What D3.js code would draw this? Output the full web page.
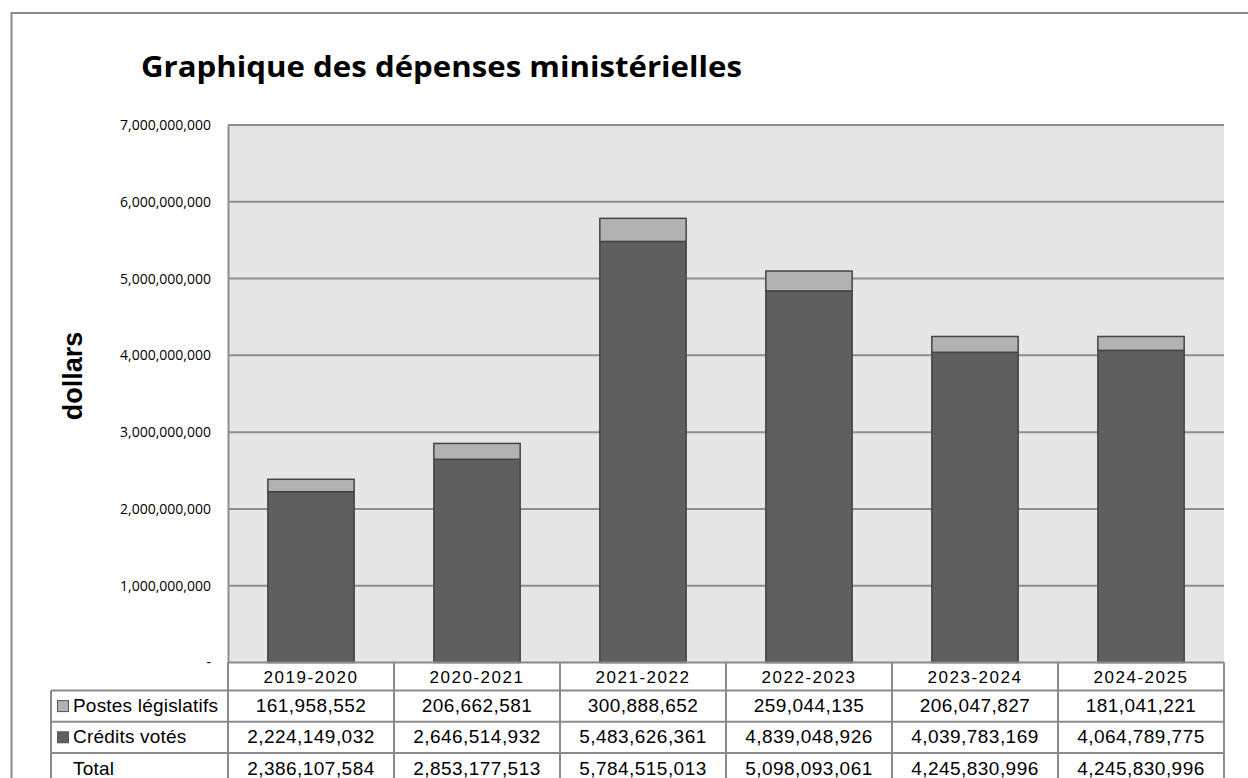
<!DOCTYPE html>
<html>
<head>
<meta charset="utf-8">
<script src="https://cdn.jsdelivr.net/npm/d3@7"></script>
<style>
  body { margin: 0; background: #fff; }
  svg { display: block; }
</style>
</head>
<body>
<div id="canvas"></div>
<script>
const years = ['2019-2020', '2020-2021', '2021-2022', '2022-2023', '2023-2024', '2024-2025']
const postes = [161958552, 206662581, 300888652, 259044135, 206047827, 181041221]
const credits = [2224149032, 2646514932, 5483626361, 4839048926, 4039783169, 4064789775]
const totals = [2386107584, 2853177513, 5784515013, 5098093061, 4245830996, 4245830996]
const yTicks = [0, 1e9, 2e9, 3e9, 4e9, 5e9, 6e9, 7e9]

const width = 1248
const height = 778
const plot = { left: 228, right: 1224, top: 125, bottom: 662.5 }

const colors = { credits: '#5f5f5f', postes: '#b2b2b2', grid: '#8e8e8e', bg: '#e6e6e6' }

const svg = d3.select('#canvas')
  .append('svg')
    .attr('width', width)
    .attr('height', height)

// outer frame
svg.append('rect')
  .attr('x', 11.5).attr('y', 13)
  .attr('width', 1300).attr('height', 900)
  .attr('fill', 'none')
  .attr('stroke', '#8a8a8a')
  .attr('stroke-width', 2)

svg.append('text')
  .attr('x', 141).attr('y', 77)
  .attr('font-family', 'Open Sans, sans-serif')
  .attr('font-weight', 700)
  .attr('font-size', 29)
  .attr('textLength', 601)
  .attr('lengthAdjust', 'spacingAndGlyphs')
  .text('Graphique des dépenses ministérielles')

const x = d3.scaleBand()
  .domain(years)
  .range([plot.left, plot.right])
  .paddingInner(0.48)
  .paddingOuter(0.24)

const y = d3.scaleLinear()
  .domain([0, 7e9])
  .range([plot.bottom, plot.top])

svg.append('rect')
  .attr('x', plot.left).attr('y', plot.top)
  .attr('width', plot.right - plot.left)
  .attr('height', plot.bottom - plot.top)
  .attr('fill', colors.bg)

// gridlines
svg.append('g').selectAll('line')
  .data(yTicks.filter(d => d > 0))
  .enter().append('line')
    .attr('x1', plot.left).attr('x2', plot.right)
    .attr('y1', d => y(d)).attr('y2', d => y(d))
    .attr('stroke', colors.grid)
    .attr('stroke-width', 2)

const yAxis = d3.axisLeft(y)
  .tickValues(yTicks)
  .tickSize(0)
  .tickPadding(17)
  .tickFormat(d => d === 0 ? '-' : d3.format(',')(d))

svg.append('g')
  .attr('transform', `translate(${plot.left}, 0)`)
  .call(yAxis)
  .call(g => g.select('.domain').attr('stroke', colors.grid).attr('stroke-width', 2))
  .call(g => g.selectAll('text')
    .attr('font-family', 'Open Sans, sans-serif')
    .attr('font-size', 14)
    .attr('fill', '#000'))

svg.append('text')
  .attr('transform', 'translate(82, 376) rotate(-90)')
  .attr('text-anchor', 'middle')
  .attr('font-family', 'Liberation Sans, Arial, sans-serif')
  .attr('font-weight', 700)
  .attr('font-size', 27)
  .text('dollars')

// stacked bars
const stacked = years.map((yr, i) => ({ year: yr, credits: credits[i], postes: postes[i] }))
const series = d3.stack().keys(['credits', 'postes'])(stacked)

svg.append('g').selectAll('g')
  .data(series)
  .enter().append('g')
    .attr('fill', d => colors[d.key])
  .selectAll('rect')
  .data(d => d)
  .enter().append('rect')
    .attr('x', d => x(d.data.year))
    .attr('y', d => y(d[1]))
    .attr('width', x.bandwidth())
    .attr('height', d => y(d[0]) - y(d[1]))
    .attr('stroke', '#444')
    .attr('stroke-width', 1.5)

// data table
const headerH = 28
const rowH = 31.2
const labelLeft = 51
const tableTop = plot.bottom
const rows = [
  { label: 'Postes législatifs', values: postes, swatch: colors.postes },
  { label: 'Crédits votés', values: credits, swatch: colors.credits },
  { label: 'Total', values: totals, swatch: null }
]
const step = x.step()
const colLeft = i => plot.left + i * step
const table = svg.append('g')
const lineColor = '#8a8a8a'

// header cells
table.selectAll('.hdr')
  .data(years)
  .enter().append('text')
    .attr('class', 'hdr')
    .attr('x', (d, i) => colLeft(i) + step / 2)
    .attr('y', tableTop + headerH / 2 + 6)
    .attr('text-anchor', 'middle')
    .attr('font-family', 'Liberation Sans, Arial, sans-serif')
    .attr('font-size', 17)
    .attr('letter-spacing', 1.5)
    .text(d => d)

rows.forEach((r, ri) => {
  const top = tableTop + headerH + ri * rowH
  const g = table.append('g')
  if (r.swatch) {
    g.append('rect')
      .attr('x', 57.5).attr('y', top + rowH / 2 - 5.5)
      .attr('width', 11).attr('height', 11)
      .attr('fill', r.swatch)
      .attr('stroke', '#555').attr('stroke-width', 1)
  }
  g.append('text')
    .attr('x', 73).attr('y', top + rowH / 2 + 6)
    .attr('font-family', 'Liberation Sans, Arial, sans-serif')
    .attr('font-size', 19)
    .attr('letter-spacing', 0.2)
    .text(r.label)
  g.selectAll('.val')
    .data(r.values)
    .enter().append('text')
      .attr('x', (d, i) => colLeft(i) + step / 2)
      .attr('y', top + rowH / 2 + 6)
      .attr('text-anchor', 'middle')
      .attr('font-family', 'Liberation Sans, Arial, sans-serif')
      .attr('font-size', 19)
      .attr('letter-spacing', 0.45)
      .text(d => d3.format(',')(d))
})

// table grid
const tableBottom = tableTop + headerH + rows.length * rowH
table.append('line')
  .attr('x1', plot.left).attr('x2', plot.right)
  .attr('y1', tableTop).attr('y2', tableTop)
  .attr('stroke', lineColor).attr('stroke-width', 2)
d3.range(rows.length + 1).forEach(k => {
  const yy = tableTop + headerH + k * rowH
  table.append('line')
    .attr('x1', labelLeft).attr('x2', plot.right)
    .attr('y1', yy).attr('y2', yy)
    .attr('stroke', lineColor).attr('stroke-width', 2)
})
d3.range(years.length + 1).forEach(k => {
  table.append('line')
    .attr('x1', colLeft(k)).attr('x2', colLeft(k))
    .attr('y1', tableTop).attr('y2', tableBottom)
    .attr('stroke', lineColor).attr('stroke-width', 2)
})
table.append('line')
  .attr('x1', labelLeft).attr('x2', labelLeft)
  .attr('y1', tableTop + headerH).attr('y2', tableBottom)
  .attr('stroke', lineColor).attr('stroke-width', 2)
</script>
</body>
</html>
